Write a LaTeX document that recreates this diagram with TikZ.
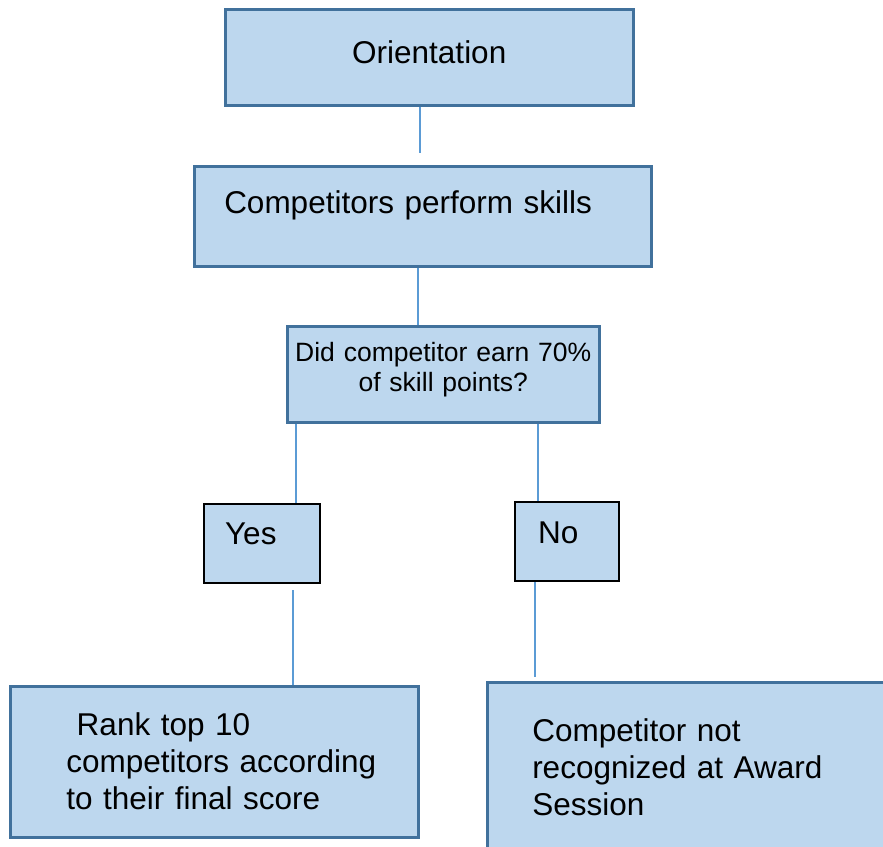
\documentclass[tikz,border=0pt]{standalone}
\usepackage{fontspec}
\setmainfont{Liberation Sans}
\definecolor{kasten}{HTML}{BDD7EE}
\definecolor{rand}{HTML}{41719C}
\definecolor{linie}{HTML}{5B9BD5}
\begin{document}
\begin{tikzpicture}[x=1pt, y=-1pt,
    box/.style={draw=rand, fill=kasten, line width=2.5pt, anchor=north west, inner ysep=0pt, font=\fontsize{31.5}{37}\selectfont},
    answer/.style={box, draw=black, line width=2.2pt},
    link/.style={draw=linie, line width=1.2pt}]
    % Bildbereich
    \useasboundingbox (0,0) rectangle (883,846);
    \clip (0,0) rectangle (883,846);
    % Kaesten zeichnen
    \node[box, text width=408pt, inner xsep=0pt, align=center, text height=54pt, text depth=42pt] (orient) at (224,8) {Orientation};
    \node[box, text width=397pt, inner xsep=30pt, align=left, text height=47pt, text depth=53pt] (perform) at (193,165) {Competitors perform skills};
    \node[box, font=\fontsize{26.5}{30}\selectfont, text width=312pt, inner xsep=0pt, align=center, text height=35pt, text depth=61pt] (decide) at (286,325) {Did competitor earn 70\%\\of skill points?};
    \node[answer, text width=74pt, inner xsep=21pt, align=left, text height=40pt, text depth=39pt] (yes) at (203,503) {Yes};
    \node[answer, text width=58pt, inner xsep=23pt, align=left, text height=41pt, text depth=38pt] (no) at (514,501) {No};
    \node[box, text width=296pt, inner xsep=56pt, align=left, text height=49pt, text depth=102pt] (rank) at (9,685) {\ Rank top 10\\\mbox{competitors according}\\to their final score};
    \node[box, text width=330pt, inner xsep=45pt, align=left, text height=59pt, text depth=130pt] (award) at (486,681) {Competitor not\\recognized at Award\\Session};
    % Verbindungen zeichnen
    \coordinate (gapa) at (420,153);
    \coordinate (gapb) at (293,590);
    \coordinate (gapc) at (535,677);
    \draw[link] (orient.south -| gapa) -- (gapa);
    \draw[link] (perform.south -| 418,0) -- (decide.north -| 418,0);
    \draw[link] (decide.south -| 296,0) -- (yes.north -| 296,0);
    \draw[link] (decide.south -| 538,0) -- (no.north -| 538,0);
    \draw[link] (gapb) -- (rank.north -| gapb);
    \draw[link] (no.south -| gapc) -- (gapc);
\end{tikzpicture}
\end{document}
